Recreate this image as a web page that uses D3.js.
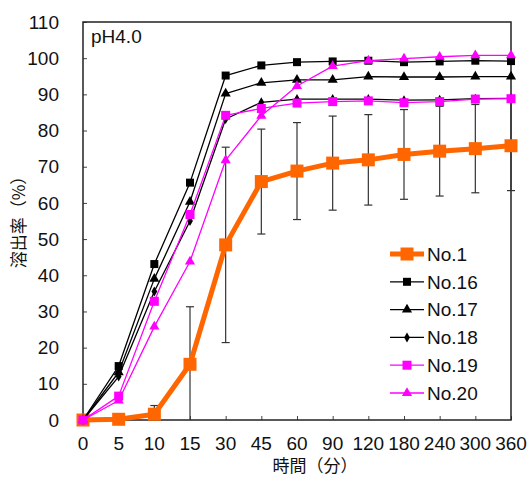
<!DOCTYPE html>
<html>
<head>
<meta charset="utf-8">
<script src="https://cdn.jsdelivr.net/npm/d3@7"></script>
<style>
  body { margin: 0; background: #fff; }
  svg { font-family: "Liberation Sans", Arial, sans-serif; }
</style>
</head>
<body>
<div id="chart"></div>
<script>
// time points (min) - treated as categories, evenly spaced
const times = ["0", "5", "10", "15", "30", "45", "60", "90", "120", "180", "240", "300", "360"]
const yTicks = [0, 10, 20, 30, 40, 50, 60, 70, 80, 90, 100, 110]

const no1   = [0, 0.2, 1.6, 15.4, 48.4, 65.9, 68.8, 71.0, 71.9, 73.4, 74.3, 75.0, 75.8]
const no1Sd = [0, 0, 2.4, 15.9, 27.0, 14.5, 13.4, 13.0, 12.5, 12.4, 12.4, 12.2, 12.4]
const no16  = [0, 14.9, 43.1, 65.6, 95.2, 98.0, 98.9, 99.1, 99.3, 98.9, 99.1, 99.3, 99.2]
const no17  = [0, 13.2, 39.0, 60.3, 90.2, 93.2, 94.0, 94.0, 94.9, 94.8, 94.8, 94.9, 94.9]
const no18  = [0, 12.0, 35.5, 55.0, 83.2, 87.8, 88.7, 88.7, 88.7, 88.4, 88.5, 88.8, 88.9]
const no19  = [0, 6.6, 32.8, 56.8, 84.2, 86.1, 87.6, 88.0, 88.2, 87.7, 88.0, 88.7, 88.8]
const no20  = [0, 5.4, 25.8, 43.8, 71.8, 84.1, 92.3, 97.8, 99.3, 99.9, 100.4, 100.8, 100.8]

const series = [
  { name: "No.1",  values: no1,  color: "#ff6600", width: 5,   marker: "square",   size: 13 },
  { name: "No.16", values: no16, color: "#000000", width: 1.3, marker: "square",   size: 8 },
  { name: "No.17", values: no17, color: "#000000", width: 1.3, marker: "triangle", size: 9 },
  { name: "No.18", values: no18, color: "#000000", width: 1.3, marker: "diamond",  size: 8 },
  { name: "No.19", values: no19, color: "#ff00ff", width: 1.3, marker: "square",   size: 9 },
  { name: "No.20", values: no20, color: "#ff00ff", width: 1.3, marker: "triangle", size: 9 }
]

const W = 530, H = 477
const margin = { top: 22, right: 19, bottom: 57, left: 83 }
const width = W - margin.left - margin.right
const height = H - margin.top - margin.bottom

const svg = d3.select("#chart").append("svg")
  .attr("width", W)
  .attr("height", H)

const g = svg.append("g")
  .attr("transform", "translate(" + margin.left + "," + margin.top + ")")

const x = d3.scalePoint().domain(times).range([0, width])
const y = d3.scaleLinear().domain([0, 110]).range([height, 0])

// marker symbols
function symbolFor(m, s) {
  if (m == "square") return d3.symbol().type(d3.symbolSquare).size(s * s)()
  if (m == "triangle") return d3.symbol().type(d3.symbolTriangle).size(s * s * 0.55)()
  return d3.symbol().type(d3.symbolDiamond).size(s * s * 0.45)()
}

// axes (ticks point inward)
g.append("g")
  .attr("transform", "translate(0," + height + ")")
  .call(d3.axisTop(x).tickSize(4).tickFormat(""))
  .call(a => a.select(".domain").remove())
  .selectAll("line").attr("stroke", "#444")

g.append("g")
  .call(d3.axisRight(y).tickValues(yTicks).tickSize(4).tickFormat(""))
  .call(a => a.select(".domain").remove())
  .selectAll("line").attr("stroke", "#444")

g.selectAll(".xlab")
  .data(times)
  .enter()
  .append("text")
  .attr("x", d => x(d))
  .attr("y", height + 30)
  .attr("text-anchor", "middle")
  .style("font-size", "19px")
  .attr("fill", "#111")
  .text(d => d)

g.selectAll(".ylab")
  .data(yTicks)
  .enter()
  .append("text")
  .attr("x", -24)
  .attr("y", d => y(d))
  .attr("dy", "0.35em")
  .attr("text-anchor", "end")
  .style("font-size", "19px")
  .attr("fill", "#111")
  .text(d => d)

// frame
g.append("rect")
  .attr("width", width)
  .attr("height", height)
  .attr("fill", "none")
  .attr("stroke", "#222")
  .attr("stroke-width", 1.5)

// axis titles
svg.append("text")
  .attr("transform", "translate(25,218) rotate(-90)")
  .attr("text-anchor", "middle")
  .style("font-family", "'Noto Sans CJK JP', sans-serif")
  .style("font-size", "17px")
  .attr("fill", "#111")
  .text("溶出率（%）")

svg.append("text")
  .attr("x", 315)
  .attr("y", 472)
  .attr("text-anchor", "middle")
  .style("font-family", "'Noto Sans CJK JP', sans-serif")
  .style("font-size", "17px")
  .attr("fill", "#111")
  .text("時間（分）")

g.append("text")
  .attr("x", 8)
  .attr("y", 21)
  .style("font-size", "19px")
  .attr("fill", "#111")
  .text("pH4.0")

// error bars for No.1
const errs = times.map((t, i) => ({ t: t, m: no1[i], sd: no1Sd[i] })).filter(d => d.sd > 0)
const eb = g.selectAll(".err").data(errs).enter().append("g").attr("class", "err")
eb.append("line")
  .attr("x1", d => x(d.t)).attr("x2", d => x(d.t))
  .attr("y1", d => y(Math.max(0, d.m - d.sd)))
  .attr("y2", d => y(d.m + d.sd))
  .attr("stroke", "#333").attr("stroke-width", 1.2)
eb.append("line")
  .attr("x1", d => x(d.t) - 4).attr("x2", d => x(d.t) + 4)
  .attr("y1", d => y(d.m + d.sd)).attr("y2", d => y(d.m + d.sd))
  .attr("stroke", "#333").attr("stroke-width", 1.2)
eb.filter(d => d.m - d.sd > 0).append("line")
  .attr("x1", d => x(d.t) - 4).attr("x2", d => x(d.t) + 4)
  .attr("y1", d => y(d.m - d.sd)).attr("y2", d => y(d.m - d.sd))
  .attr("stroke", "#333").attr("stroke-width", 1.2)

// series lines + markers
const line = d3.line()
  .x((d, i) => x(times[i]))
  .y(d => y(d))

series.forEach(s => {
  g.append("path")
    .datum(s.values)
    .attr("d", line)
    .attr("fill", "none")
    .attr("stroke", s.color)
    .attr("stroke-width", s.width)
    .attr("stroke-linejoin", "round")
  g.selectAll(null)
    .data(s.values)
    .enter()
    .append("path")
    .attr("d", symbolFor(s.marker, s.size))
    .attr("transform", (d, i) => "translate(" + x(times[i]) + "," + y(d) + ")")
    .attr("fill", s.color)
})

// legend
const legend = svg.selectAll(".legend")
  .data(series)
  .enter()
  .append("g")
  .attr("class", "legend")
  .attr("transform", (d, i) => "translate(390," + (254 + i * 27.8) + ")")

legend.append("line")
  .attr("x1", 0).attr("x2", 34)
  .attr("stroke", d => d.color)
  .attr("stroke-width", d => d.width)

legend.append("path")
  .attr("d", d => symbolFor(d.marker, d.size))
  .attr("transform", "translate(17,0)")
  .attr("fill", d => d.color)

legend.append("text")
  .attr("x", 37)
  .attr("dy", "0.36em")
  .style("font-size", "19px")
  .attr("fill", "#111")
  .text(d => d.name)
</script>
</body>
</html>
